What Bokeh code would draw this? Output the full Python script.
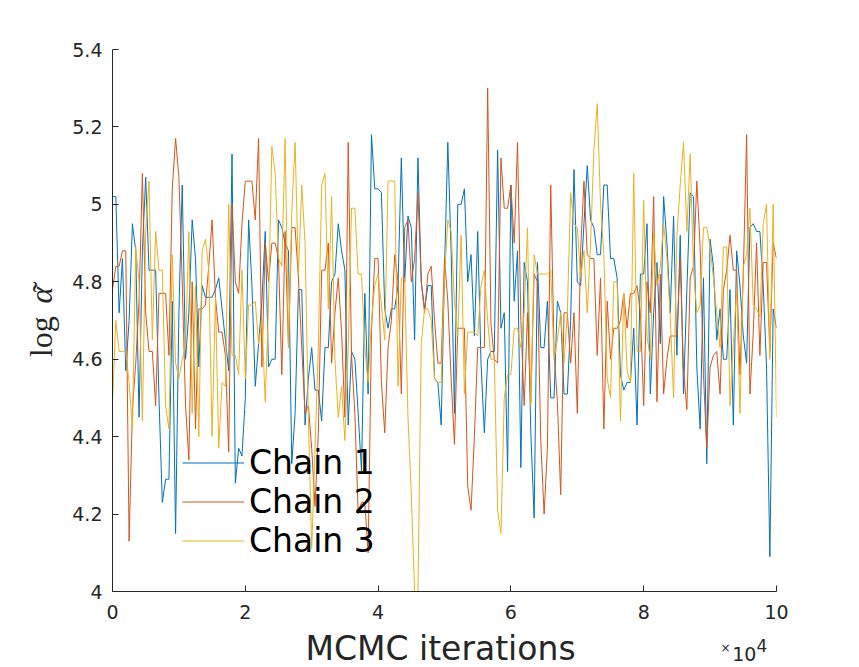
import numpy as np
from bokeh.plotting import figure
from bokeh.models import Range1d, FixedTicker, Label, Legend, LegendItem, ColumnDataSource
from bokeh.embed import file_html
from bokeh.resources import INLINE

STEP = 500  # iterations between stored samples

CHAIN1 = [5.02, 5.02, 4.72, 4.86, 4.57, 4.70, 4.95, 4.88, 4.45, 4.88,
          5.07, 4.83, 4.83, 4.83, 4.50, 4.23, 4.29, 4.29, 4.75, 4.15,
          4.72, 5.05, 4.60, 4.72, 4.96, 4.86, 4.58, 4.79, 4.76, 4.76,
          4.76, 4.78, 4.81, 4.73, 4.65, 4.57, 5.13, 4.28, 4.37, 4.35,
          4.50, 4.96, 4.79, 4.53, 4.64, 4.75, 4.93, 4.58, 4.60, 4.60,
          4.96, 4.94, 4.90, 4.88, 4.33, 4.46, 4.78, 4.78, 4.43, 4.55,
          4.63, 4.52, 4.52, 4.44, 4.63, 4.63, 4.80, 4.82, 4.95, 4.88,
          4.83, 4.43, 4.62, 4.60, 4.46, 4.31, 4.77, 4.51, 5.18, 5.04,
          5.04, 5.03, 4.73, 4.68, 4.73, 4.73, 4.79, 5.12, 4.80, 4.97,
          4.94, 4.65, 5.12, 4.80, 4.73, 4.79, 4.79, 4.55, 4.54, 4.43,
          4.83, 5.16, 4.88, 4.46, 5.00, 5.00, 5.04, 4.80, 4.87, 4.66,
          4.93, 4.59, 4.41, 4.60, 4.62, 4.62, 5.14, 4.68, 4.72, 4.31,
          5.05, 4.75, 4.88, 4.32, 4.85, 4.80, 4.41, 4.19, 4.85, 4.63,
          4.63, 4.75, 4.50, 4.50, 4.75, 4.72, 4.51, 4.51, 4.70, 5.09,
          4.80, 4.79, 4.95, 5.10, 4.96, 4.94, 4.87, 4.87, 5.05, 5.05,
          4.86, 4.86, 4.81, 4.56, 4.52, 4.54, 4.54, 4.68, 4.43, 4.82,
          4.82, 4.95, 4.51, 4.72, 4.85, 4.64, 5.02, 4.90, 4.72, 4.97,
          4.61, 4.92, 4.51, 4.78, 5.03, 5.02, 4.58, 4.42, 4.81, 4.33,
          4.91, 4.84, 4.65, 4.73, 4.60, 4.60, 4.78, 4.43, 4.88, 4.79,
          4.66, 4.59, 4.94, 4.95, 4.93, 4.93, 4.79, 4.58, 4.09, 4.73,
          4.68]

CHAIN2 = [4.78, 4.84, 4.84, 4.88, 4.88, 4.13, 4.47, 4.59, 4.75, 5.08,
          4.72, 4.62, 4.62, 4.48, 4.77, 4.77, 4.77, 4.61, 5.04, 5.17,
          5.07, 4.80, 4.48, 4.34, 4.80, 4.42, 4.73, 4.73, 4.74, 4.84,
          4.96, 4.76, 4.67, 4.67, 4.61, 4.36, 5.00, 4.80, 4.77, 4.95,
          5.06, 5.06, 5.06, 4.96, 5.17, 4.58, 4.90, 4.80, 4.90, 4.90,
          4.86, 4.56, 4.93, 4.63, 4.94, 4.94, 4.81, 4.63, 4.46, 4.48,
          4.37, 4.22, 4.41, 4.83, 4.83, 4.90, 4.59, 4.72, 4.81, 4.67,
          4.45, 5.16, 4.61, 4.46, 4.20, 4.23, 4.23, 4.10, 4.67, 4.86,
          4.86, 4.54, 4.41, 4.63, 4.70, 4.87, 4.80, 4.51, 4.94, 4.96,
          4.80, 4.86, 5.03, 4.80, 4.72, 4.82, 4.84, 4.70, 4.59, 4.59,
          4.86, 4.75, 4.55, 4.38, 4.68, 4.68, 4.68, 4.27, 4.21, 4.40,
          4.63, 4.63, 4.63, 5.30, 4.69, 4.60, 4.59, 5.12, 4.99, 4.99,
          5.05, 4.90, 5.16, 4.70, 4.48, 4.72, 4.49, 4.82, 4.80, 4.39,
          4.20, 4.37, 5.05, 4.62, 4.49, 4.25, 4.72, 4.72, 4.59, 4.72,
          4.46, 4.88, 5.06, 4.87, 4.86, 4.86, 4.61, 4.81, 4.42, 4.75,
          4.60, 4.68, 4.68, 4.70, 4.77, 4.68, 4.77, 4.77, 4.79, 4.72,
          4.48, 4.80, 4.72, 5.02, 4.49, 4.82, 4.51, 4.60, 4.66, 4.66,
          4.66, 4.86, 4.57, 4.47, 4.81, 4.84, 5.06, 4.89, 4.56, 4.37,
          4.58, 4.61, 4.62, 4.51, 4.78, 4.83, 4.92, 4.83, 4.83, 4.56,
          4.82, 5.18, 4.51, 4.67, 4.90, 4.61, 4.85, 4.85, 4.62, 4.90,
          4.86]

CHAIN3 = [4.49, 4.70, 4.62, 4.62, 4.62, 4.54, 4.42, 4.89, 4.80, 4.44,
          4.93, 5.06, 4.65, 4.93, 4.83, 4.83, 4.48, 4.42, 4.87, 4.59,
          4.55, 4.60, 4.63, 4.93, 4.46, 4.79, 4.40, 4.88, 4.91, 4.83,
          4.40, 4.76, 4.37, 4.54, 4.53, 5.00, 4.61, 4.61, 4.56, 4.83,
          4.55, 4.74, 4.74, 4.75, 4.64, 4.70, 4.49, 4.74, 5.15, 5.08,
          4.86, 4.84, 5.17, 4.63, 4.98, 5.16, 4.82, 5.05, 4.90, 4.45,
          4.11, 4.37, 4.63, 5.05, 5.08, 4.73, 5.02, 4.60, 4.45, 4.53,
          4.39, 4.63, 4.99, 4.99, 4.82, 4.82, 4.63, 4.54, 4.70, 4.79,
          4.82, 4.74, 4.65, 5.06, 5.06, 5.06, 4.53, 4.81, 4.81, 4.45,
          4.25, 4.00, 4.00, 4.64, 4.73, 4.73, 4.70, 4.55, 4.54, 4.54,
          4.81, 4.96, 4.93, 4.75, 4.66, 4.92, 4.51, 4.67, 4.67, 4.67,
          4.66, 4.79, 4.83, 4.70, 4.60, 4.60, 4.21, 4.15, 4.50, 4.56,
          4.56, 4.68, 4.68, 4.63, 4.72, 4.94, 4.48, 4.87, 4.82, 4.82,
          4.82, 4.82, 4.83, 4.60, 4.65, 4.72, 4.59, 4.72, 5.03, 4.95,
          4.94, 4.81, 4.88, 4.72, 4.90, 5.14, 5.26, 5.00, 4.87, 4.55,
          4.50, 4.80, 4.80, 4.44, 4.77, 4.57, 4.54, 5.08, 4.62, 4.62,
          5.01, 4.66, 4.60, 4.93, 4.79, 4.84, 4.95, 4.86, 4.71, 4.50,
          4.92, 5.05, 5.16, 4.93, 5.13, 4.83, 4.72, 4.74, 4.94, 4.94,
          4.89, 4.81, 4.72, 4.63, 4.89, 4.89, 4.48, 4.64, 4.78, 4.46,
          4.84, 4.87, 4.99, 4.74, 4.73, 4.71, 4.95, 5.00, 4.60, 5.00,
          4.45]

CHAIN_NAMES = ["Chain 1", "Chain 2", "Chain 3"]
COLORS = ["#0072BD", "#D95319", "#EDB120"]

XTICKS = [0, 20000, 40000, 60000, 80000, 100000]
XTICK_LABELS = ["0", "2", "4", "6", "8", "10"]
YTICKS = [4.0, 4.2, 4.4, 4.6, 4.8, 5.0, 5.2, 5.4]
YTICK_LABELS = ["4", "4.2", "4.4", "4.6", "4.8", "5", "5.2", "5.4"]

X_LABEL = "MCMC iterations"
AXIS_COLOR = "#262626"

p = figure(width=859, height=667, x_range=Range1d(0, 100000), y_range=Range1d(4, 5.4),
           output_backend="svg", toolbar_location=None,
           min_border_left=112, min_border_right=83, min_border_top=49, min_border_bottom=76)
p.outline_line_color = None
p.xgrid.visible = False
p.ygrid.visible = False
p.background_fill_color = "white"
p.border_fill_color = "white"

items = []
for name, vals, col in zip(CHAIN_NAMES, [CHAIN1, CHAIN2, CHAIN3], COLORS):
    src = ColumnDataSource(dict(x=np.arange(len(vals)) * STEP, y=vals))
    r = p.line("x", "y", source=src, line_color=col, line_width=1)
    items.append(LegendItem(label=name, renderers=[r]))

for ax in (p.xaxis[0], p.yaxis[0]):
    ax.axis_line_color = AXIS_COLOR
    ax.major_tick_line_color = AXIS_COLOR
    ax.major_tick_in = 6
    ax.major_tick_out = 0
    ax.minor_tick_line_color = None
    ax.major_label_text_color = AXIS_COLOR
    ax.major_label_text_font = "DejaVu Sans"
    ax.major_label_text_font_size = "19px"
p.yaxis.major_label_standoff = 10
p.xaxis.major_label_standoff = 13

p.xaxis.ticker = FixedTicker(ticks=XTICKS)
p.xaxis.major_label_overrides = {t: l for t, l in zip(XTICKS, XTICK_LABELS)}
p.yaxis.ticker = FixedTicker(ticks=YTICKS)
p.yaxis.major_label_overrides = {t: l for t, l in zip(YTICKS, YTICK_LABELS)}


def txt(panel, **kw):
    kw.setdefault("text_color", AXIS_COLOR)
    p.add_layout(Label(**kw), panel)


# x axis label
txt("below", x=49400, y=3.854, text=X_LABEL, text_align="center",
    text_baseline="alphabetic", text_font="DejaVu Sans", text_font_size="33px")
# exponent "x10^4"
txt("left", x=93072, y=3.8528, text="×", text_align="right", text_baseline="middle",
    text_font="DejaVu Sans", text_font_size="12px")
txt("right", x=93328, y=3.838, text="10", text_align="left", text_baseline="alphabetic",
    text_font="DejaVu Sans", text_font_size="19px")
txt("left", x=96988, y=3.8613, text="4", text_align="left", text_baseline="alphabetic",
    text_font="DejaVu Sans", text_font_size="17px")

# y axis label: log alpha-tilde
txt("left", x=-10843, y=4.6053, text="log", angle=np.pi / 2, text_align="left",
    text_baseline="alphabetic", text_font="Liberation Serif", text_font_size="32px")
txt("right", x=-10843, y=4.744, text="α", angle=np.pi / 2, text_align="left",
    text_baseline="alphabetic", text_font="Liberation Serif",
    text_font_style="italic", text_font_size="32px")
txt("above", x=-10542, y=4.7866, text="˜", angle=np.pi / 2, text_align="center",
    text_baseline="alphabetic", text_font="Liberation Serif", text_font_size="32px")

legend = Legend(items=items, location=(70, 31), padding=0, margin=0, spacing=0,
                glyph_width=62, glyph_height=39, label_height=39, label_standoff=5,
                label_text_font="DejaVu Sans", label_text_font_size="33px",
                label_text_color="black", background_fill_alpha=0,
                border_line_color=None)
p.add_layout(legend, "center")

open("out.html", "w").write(file_html(p, INLINE))
